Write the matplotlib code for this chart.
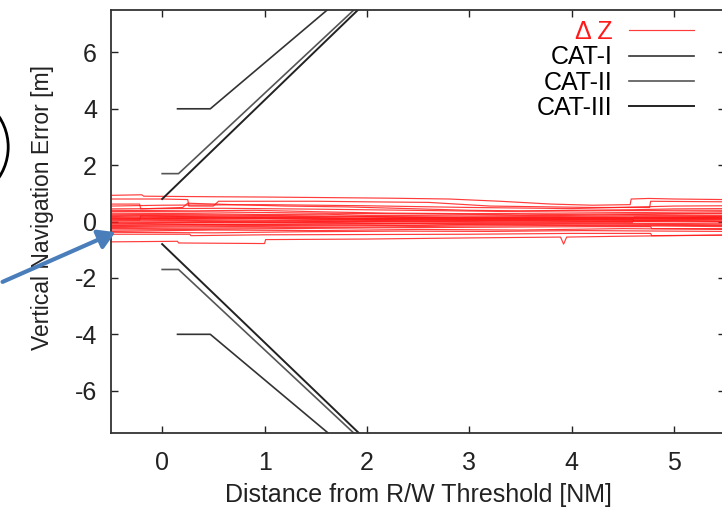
import numpy as np
import matplotlib
matplotlib.use("Agg")
import matplotlib.pyplot as plt
from matplotlib.patches import Circle, FancyArrowPatch

plt.rcParams['font.family'] = ['Liberation Sans', 'DejaVu Sans']
plt.rcParams['axes.unicode_minus'] = False

# CAT limits (distance [NM], error [m])
cat1_x = [0.15, 0.47, 1.61]
cat1_up = [4.0, 4.0, 7.5]
cat1_lo_x = [0.15, 0.47, 1.62]
cat1_lo = [-4.0, -4.0, -7.5]

cat2_x = [0.0, 0.16, 1.87]
cat2_up = [1.7, 1.7, 7.5]
cat2_lo_x = [0.0, 0.16, 1.87]
cat2_lo = [-1.7, -1.7, -7.5]

cat3_x = [0.0, 1.91]
cat3_up = [0.8, 7.5]
cat3_lo_x = [0.0, 1.92]
cat3_lo = [-0.8, -7.5]

# Delta Z traces: (x list, y list)
dz_traces = [
    ([-0.5, -0.2, -0.18, 0.5, 1.0, 1.6, 2.2, 2.8, 3.3, 3.8, 4.2, 4.57, 4.58, 4.75, 5.0, 5.5],
     [0.93, 0.95, 0.90, 0.88, 0.87, 0.85, 0.83, 0.80, 0.72, 0.62, 0.58, 0.60, 0.80, 0.82, 0.80, 0.78]),
    ([-0.5, 0.0, 0.25, 0.26, 0.5, 0.55, 1.0, 1.5, 2.0, 2.6, 3.2, 3.8, 4.2, 4.76, 4.77, 5.5],
     [0.80, 0.80, 0.78, 0.55, 0.55, 0.72, 0.72, 0.72, 0.70, 0.68, 0.55, 0.52, 0.50, 0.50, 0.72, 0.70]),
    ([-0.5, -0.22, -0.21, 0.2, 0.25, 0.7, 1.2, 1.8, 2.5, 3.0, 3.5, 4.0, 4.6, 5.0, 5.5],
     [0.62, 0.62, 0.45, 0.50, 0.65, 0.60, 0.55, 0.52, 0.45, 0.40, 0.38, 0.40, 0.42, 0.45, 0.46]),
    ([-0.5, 0.3, 0.9, 1.5, 2.2, 3.0, 3.9, 4.6, 5.5],
     [0.40, 0.38, 0.40, 0.35, 0.30, 0.28, 0.30, 0.32, 0.35]),
    ([-0.5, 0.3, 1.0, 1.6, 2.0, 3.0, 3.5, 4.0, 4.6, 5.5],
     [0.30, 0.28, 0.25, 0.26, 0.22, 0.20, 0.21, 0.22, 0.25, 0.28]),
    ([-0.5, 0.6, 1.4, 1.9, 2.4, 3.4, 4.4, 4.9, 5.5],
     [0.22, 0.20, 0.18, 0.19, 0.15, 0.12, 0.15, 0.16, 0.18]),
    ([-0.5, -0.22, -0.21, 0.8, 1.8, 2.8, 3.3, 3.8, 4.8, 5.5],
     [0.05, 0.05, 0.20, 0.15, 0.12, 0.10, 0.11, 0.08, 0.10, 0.12]),
    ([-0.5, 0.5, 1.0, 1.5, 2.5, 3.5, 4.5, 5.5],
     [0.12, 0.10, 0.11, 0.08, 0.06, 0.05, 0.06, 0.08]),
    ([-0.5, 0.2, 0.7, 1.2, 2.2, 2.7, 3.2, 4.2, 5.5],
     [0.02, 0.04, 0.02, 0.03, 0.02, 0.03, 0.04, 0.05, 0.02]),
    ([-0.5, 0.4, 1.3, 2.1, 3.1, 3.6, 4.1, 5.0, 5.5],
     [-0.05, -0.03, -0.02, 0.0, -0.02, -0.01, 0.0, 0.02, 0.0]),
    ([-0.5, 0.7, 1.6, 2.6, 3.6, 4.59, 4.6, 5.5],
     [-0.12, -0.10, -0.08, -0.06, -0.05, -0.04, 0.05, 0.06]),
    ([-0.5, 0.3, 1.0, 2.0, 2.5, 3.0, 3.9, 4.8, 5.5],
     [-0.18, -0.15, -0.14, -0.12, -0.13, -0.10, -0.08, -0.10, -0.12]),
    ([-0.5, 0.9, 1.9, 2.9, 3.9, 4.9, 5.5],
     [-0.25, -0.22, -0.20, -0.16, -0.14, -0.16, -0.18]),
    ([-0.5, 0.5, 1.5, 2.5, 3.5, 4.5, 5.5],
     [0.36, 0.34, 0.30, 0.27, 0.24, 0.27, 0.30]),
    ([-0.5, 0.1, 1.1, 2.1, 3.1, 4.1, 5.1, 5.5],
     [0.15, 0.17, 0.13, 0.10, 0.08, 0.10, 0.14, 0.15]),
    ([-0.5, 0.0, 0.8, 1.7, 2.7, 3.7, 4.7, 5.5],
     [-0.08, -0.06, -0.04, -0.03, 0.0, 0.02, 0.0, -0.02]),
    ([-0.5, 0.6, 1.4, 2.3, 3.3, 4.3, 5.5],
     [0.08, 0.06, 0.05, 0.08, 0.10, 0.12, 0.10]),
    ([-0.5, 0.2, 1.2, 2.2, 3.2, 4.2, 4.77, 4.78, 5.5],
     [-0.30, -0.28, -0.25, -0.22, -0.20, -0.18, -0.18, -0.25, -0.25]),
    ([-0.5, 0.5, 1.5, 2.5, 3.5, 4.5, 5.5],
     [-0.35, -0.30, -0.32, -0.28, -0.30, -0.25, -0.28]),
    ([-0.5, 0.27, 0.28, 1.0, 2.0, 3.0, 4.0, 4.77, 4.78, 5.5],
     [-0.45, -0.45, -0.50, -0.47, -0.46, -0.45, -0.42, -0.42, -0.50, -0.48]),
    ([-0.5, 0.15, 0.16, 1.0, 1.01, 2.0, 3.0, 3.89, 3.92, 3.95, 4.5, 5.5],
     [-0.72, -0.70, -0.76, -0.78, -0.64, -0.62, -0.58, -0.55, -0.80, -0.55, -0.52, -0.48]),
    ([-0.5, 0.4, 1.2, 2.0, 2.9, 3.8, 4.7, 5.5],
     [0.26, 0.24, 0.21, 0.18, 0.16, 0.18, 0.21, 0.22]),
    ([-0.5, 0.1, 0.9, 1.8, 2.6, 3.4, 4.3, 5.5],
     [0.18, 0.14, 0.16, 0.13, 0.14, 0.13, 0.16, 0.14]),
    ([-0.5, 0.5, 1.3, 2.2, 3.0, 3.9, 4.6, 4.61, 5.5],
     [-0.02, 0.0, -0.01, 0.04, 0.06, 0.07, 0.07, 0.16, 0.17]),
    ([-0.5, 0.3, 1.1, 1.9, 2.8, 3.7, 4.5, 5.5],
     [-0.14, -0.11, -0.10, -0.08, -0.06, -0.05, -0.06, -0.08]),
    ([-0.5, 0.8, 1.6, 2.5, 3.4, 4.2, 5.5],
     [0.10, 0.12, 0.09, 0.12, 0.14, 0.13, 0.12]),
    ([-0.5, 0.2, 1.0, 1.9, 2.8, 3.6, 4.5, 5.5],
     [-0.21, -0.19, -0.17, -0.15, -0.12, -0.11, -0.13, -0.14]),
    ([-0.5, 0.6, 1.5, 2.4, 3.3, 4.2, 5.0, 5.5],
     [0.45, 0.47, 0.44, 0.40, 0.36, 0.38, 0.40, 0.40]),
    ([-0.5, 0.0, 1.0, 2.0, 3.0, 4.0, 5.0, 5.5],
     [0.55, 0.58, 0.60, 0.56, 0.50, 0.46, 0.55, 0.56]),
    ([-0.5, 0.5, 1.4, 2.3, 3.2, 4.1, 5.0, 5.5],
     [-0.38, -0.40, -0.36, -0.34, -0.35, -0.32, -0.34, -0.35]),
]

x_ticks = [0, 1, 2, 3, 4, 5]
y_ticks = [-6, -4, -2, 0, 2, 4, 6]

fig = plt.figure(figsize=(7.22, 5.07), dpi=100)
ax = fig.add_axes([0.1537, 0.146, 0.851, 0.834])

for i, (xs, ys) in enumerate(dz_traces):
    ax.plot(xs, ys, color='#ff1a1a', lw=0.85, alpha=0.85,
            label='Δ Z' if i == 0 else None)

ax.plot(cat1_x, cat1_up, color='#333333', lw=1.2, label='CAT-I')
ax.plot(cat1_lo_x, cat1_lo, color='#333333', lw=1.2)
ax.plot(cat2_x, cat2_up, color='#555555', lw=1.2, label='CAT-II')
ax.plot(cat2_lo_x, cat2_lo, color='#555555', lw=1.2)
ax.plot(cat3_x, cat3_up, color='#222222', lw=1.4, label='CAT-III')
ax.plot(cat3_lo_x, cat3_lo, color='#222222', lw=1.4)

ax.set_xlim(-0.5, 5.5)
ax.set_ylim(-7.5, 7.5)
ax.set_xticks(x_ticks)
ax.set_yticks(y_ticks)
ax.tick_params(direction='in', length=5, width=1, top=True, right=True,
               labelsize=18, colors='#222222')
ax.tick_params(axis='x', pad=13)
ax.tick_params(axis='y', pad=10)
for s in ax.spines.values():
    s.set_color('#333333')
    s.set_linewidth(1.3)

ax.set_xlabel('Distance from R/W Threshold [NM]', fontsize=18, color='#222222', labelpad=6)
ax.set_ylabel('Vertical Navigation Error [m]', fontsize=16.5, color='#222222')
ax.yaxis.set_label_coords(-0.092, 0.534)

leg = ax.legend(loc='upper right', bbox_to_anchor=(0.965, 1.0), frameon=False,
                markerfirst=False, fontsize=18, handlelength=2.6, handletextpad=0.65,
                labelspacing=0.05, borderaxespad=0)
leg.get_texts()[0].set_color('#ff1a1a')

# annotation marks around the plot
fig.add_artist(Circle((-0.468, 3.60), 0.55, transform=fig.dpi_scale_trans,
                      fill=False, lw=2, ec='black'))
fig.add_artist(FancyArrowPatch((0.0, 2.24), (1.18, 2.76), transform=fig.dpi_scale_trans,
                               arrowstyle='-|>,head_length=10,head_width=6',
                               color='#4a7ebb', lw=3, mutation_scale=1))

fig.savefig('out.png', dpi=100)
